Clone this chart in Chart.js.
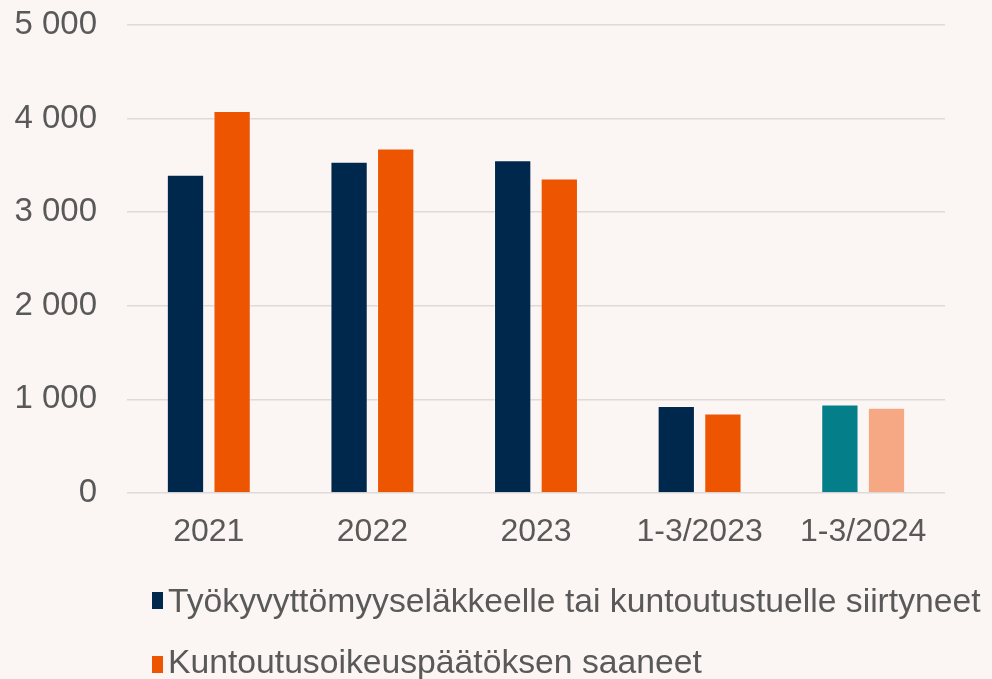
<!DOCTYPE html>
<html>
<head>
  <meta charset="utf-8">
  <script src="https://cdn.jsdelivr.net/npm/chart.js"></script>
  <title>Työkyvyttömyys ja kuntoutus</title>
  <style>
    html, body { margin: 0; padding: 0; background: #FBF6F4; }
    #wrap { width: 992px; height: 679px; }
  </style>
</head>
<body>
  <div id="wrap">
    <canvas id="kuntoutusChart"></canvas>
  </div>

  <script>
    // data
    const categories = ['2021', '2022', '2023', '1-3/2023', '1-3/2024'];
    const siirtyneet = [3400, 3540, 3555, 930, 945];
    const saaneet = [4080, 3680, 3360, 850, 910];
    const seriesNames = [
      'Työkyvyttömyyseläkkeelle tai kuntoutustuelle siirtyneet',
      'Kuntoutusoikeuspäätöksen saaneet'
    ];

    // colours (last period has other tones)
    const navy = ['#00284D', '#00284D', '#00284D', '#00284D', '#047E88'];
    const orange = ['#EE5500', '#EE5500', '#EE5500', '#EE5500', '#F5A883'];
    const textColor = '#595959';
    const fontFamily = "'Liberation Sans', Arial, sans-serif";

    // simple legend drawn under the plot, one item per line
    const legendRows = {
      id: 'legendRows',
      afterDraw(chart) {
        const ctx = chart.ctx;
        const boxY = [592, 656];
        const textY = [612, 673];
        ctx.save();
        chart.data.datasets.forEach((ds, i) => {
          ctx.fillStyle = ds.backgroundColor[0];
          ctx.fillRect(152, boxY[i], 11, 17);
          ctx.fillStyle = textColor;
          ctx.font = '33.7px ' + fontFamily;
          ctx.textBaseline = 'alphabetic';
          ctx.textAlign = 'left';
          ctx.fillText(ds.label, 168, textY[i]);
        });
        ctx.restore();
      }
    };

    const ctx = document.getElementById('kuntoutusChart').getContext('2d');
    const chart = new Chart(ctx, {
      type: 'bar',
      data: {
        labels: categories,
        datasets: [{
          label: seriesNames[0],
          data: siirtyneet,
          backgroundColor: navy,
          borderColor: 'rgba(255,255,255,0.35)',
          borderWidth: 1
        }, {
          label: seriesNames[1],
          data: saaneet,
          backgroundColor: orange,
          borderColor: 'rgba(255,255,255,0.35)',
          borderWidth: 1
        }]
      },
      options: {
        responsive: true,
        maintainAspectRatio: false,
        animation: false,
        datasets: {
          bar: { categoryPercentage: 0.57, barPercentage: 0.8 }
        },
        layout: {
          padding: { left: 15, right: 47, top: 25, bottom: 129 }
        },
        plugins: {
          legend: { display: false },
          tooltip: { enabled: false }
        },
        scales: {
          x: {
            grid: { display: false, drawTicks: false },
            border: { display: false },
            ticks: {
              color: textColor,
              padding: 20,
              font: { family: fontFamily, size: 32 }
            },
            afterFit: scale => { scale.height = 57; }
          },
          y: {
            min: 0,
            max: 5000,
            ticks: {
              stepSize: 1000,
              color: textColor,
              padding: 30,
              font: { family: fontFamily, size: 33 },
              callback: v => String(v).replace(/\B(?=(\d{3})+(?!\d))/g, ' ')
            },
            grid: { color: '#DEDAD8', lineWidth: 1.5, drawTicks: false },
            border: { display: false },
            afterFit: scale => {
              scale.width = 112;
              scale.paddingTop = 0;
              scale.paddingBottom = 0;
            }
          }
        }
      },
      plugins: [legendRows]
    });
  </script>
</body>
</html>
